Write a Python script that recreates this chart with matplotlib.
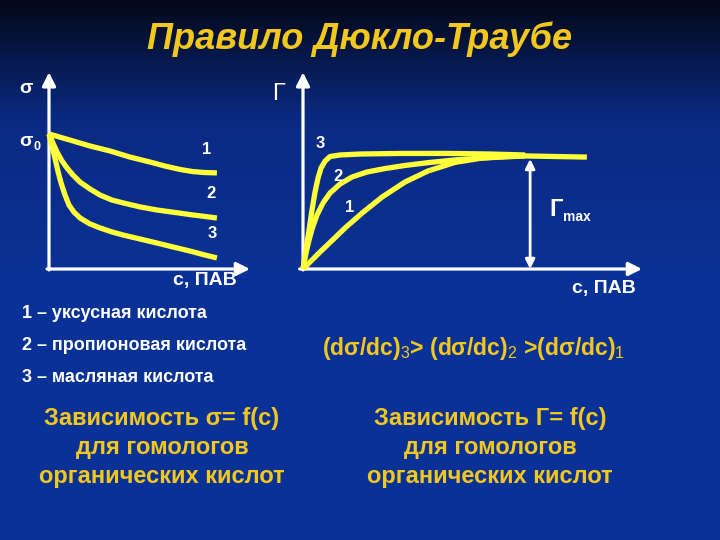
import numpy as np
import matplotlib
matplotlib.use("Agg")
import matplotlib.pyplot as plt

plt.rcParams['font.family'] = ['Liberation Sans', 'DejaVu Sans']
plt.rcParams['mathtext.fontset'] = 'custom'
plt.rcParams['mathtext.rm'] = 'Liberation Sans'
plt.rcParams['mathtext.it'] = 'Liberation Sans'
plt.rcParams['mathtext.default'] = 'rm'

# ---- data (relative units) ----
# left: surface tension sigma vs concentration
sig_c1 = [0, 10.6, 20.7, 30.8, 40.9, 51, 58.6, 66.2, 72.7, 78.8, 84.8]
sig_v1 = [70.7, 67.5, 64.4, 61.8, 58.6, 56, 53.9, 52.1, 51, 50.5, 50.3]
sig_c2 = [0, 2, 4, 6.6, 9.1, 12.1, 15.7, 20.7, 25.8, 31.8, 37.4, 46, 54.5, 63.6, 71.2, 78.8, 84.8]
sig_v2 = [70.7, 66, 61.3, 56.5, 52.9, 49.2, 45.5, 41.9, 38.7, 36.1, 34.6, 32.5, 30.9, 29.6, 28.5, 27.5, 26.7]
sig_c3 = [0, 1.5, 3, 4.5, 6.1, 8.1, 10.1, 12.6, 15.7, 20.7, 25.8, 31.8, 37.4, 46, 54.5, 63.6, 71.2, 78.8, 84.8]
sig_v3 = [70.7, 64.4, 58.1, 51.3, 45, 38.7, 33.5, 29.8, 26.7, 23.6, 21.5, 19.4, 17.8, 15.7, 13.6, 11.3, 9.4, 7.3, 5.8]
sig_labels = ['1', '2', '3']

# right: adsorption Gamma vs concentration
gam_c1 = [0, 2.7, 5.1, 8.1, 12.6, 17.7, 23.7, 30.5, 37.4, 45.5, 53.6, 60.5, 66.5, 75.4, 85]
gam_v1 = [0, 4.7, 8.9, 13.9, 21.5, 29.3, 37.7, 45.5, 51.3, 55.8, 58.1, 58.9, 59.2, 58.9, 58.6]
gam_c2 = [0, 0.6, 1.5, 2.7, 4.2, 6, 8.1, 11.1, 14.7, 19.2, 24.6, 30.5, 38, 45.5, 53.6, 66.5]
gam_v2 = [0, 5.8, 13.1, 20.9, 28.3, 34.6, 39.8, 44.5, 48.2, 50.8, 52.6, 54.2, 55.8, 57.1, 58.1, 59.2]
gam_c3 = [0, 0.9, 1.8, 2.7, 3.6, 4.5, 5.4, 6.6, 8.1, 11.1, 17.1, 29, 44, 56, 66.5]
gam_v3 = [0, 9.9, 20.4, 30.9, 40.3, 47.6, 52.9, 56.5, 58.9, 59.7, 60.2, 60.5, 60.5, 60.2, 59.7]
gam_labels = ['1', '2', '3']
gam_max_c = 68
gam_max = 58.6

title = "Правило Дюкло-Траубе"
acids = ["1 – уксусная кислота", "2 – пропионовая кислота", "3 – масляная кислота"]
left_caption = ["Зависимость σ= f(c)", "для гомологов", "органических кислот"]
right_caption = ["Зависимость Г= f(c)", "для гомологов", "органических кислот"]
xlabel = "с, ПАВ"

W, H = 720, 540
fig = plt.figure(figsize=(7.2, 5.4), dpi=100)

# background gradient
bg = fig.add_axes([0, 0, 1, 1], zorder=-10)
ys = np.linspace(0, 1, 540)[:, None]
top = np.array([4, 8, 24]) / 255
mid = np.array([10, 42, 130]) / 255
bot = np.array([10, 50, 150]) / 255
t1 = np.clip(ys / 0.22, 0, 1)
t2 = np.clip((ys - 0.22) / 0.3, 0, 1)
col = top * (1 - t1[..., None]) + mid * t1[..., None]
col = col * (1 - t2[..., None]) + bot * t2[..., None]
img = np.repeat(col, 2, axis=1)
bg.imshow(img, aspect='auto', extent=[0, 1, 0, 1])
bg.set_axis_off()

def fx(px):
    return px / W

def fy(py):
    return 1 - py / H

YEL = '#ffff3a'
GOLD = '#f2c81e'
lw_curve = 3.8
lw_axis = 2.3

def make_axes(x0, x1, y0, y1):
    ax = fig.add_axes([fx(x0), fy(y1), (x1 - x0) / W, (y1 - y0) / H])
    ax.set_xlim(0, 100)
    ax.set_ylim(0, 100)
    ax.set_axis_off()
    ax.patch.set_alpha(0)
    ap = dict(arrowstyle='-|>', color='white', lw=lw_axis, mutation_scale=20,
              shrinkA=0, shrinkB=0)
    ax.annotate('', xy=(0, 1.03), xytext=(0, -0.005), xycoords='axes fraction',
                arrowprops=ap, annotation_clip=False)
    ax.annotate('', xy=(1.015, 0), xytext=(-0.01, 0), xycoords='axes fraction',
                arrowprops=ap, annotation_clip=False)
    return ax

axL = make_axes(49, 247, 78, 269)
for c, v in [(sig_c1, sig_v1), (sig_c2, sig_v2), (sig_c3, sig_v3)]:
    axL.plot(c, v, color=YEL, lw=lw_curve, solid_capstyle='butt',
             solid_joinstyle='round', clip_on=False, zorder=3)

axR = make_axes(303, 637, 78, 269)
for c, v in [(gam_c1, gam_v1), (gam_c2, gam_v2), (gam_c3, gam_v3)]:
    axR.plot(c, v, color=YEL, lw=lw_curve, solid_capstyle='butt',
             solid_joinstyle='round', clip_on=False, zorder=3)
axR.annotate('', xy=(gam_max_c, gam_max - 1), xytext=(gam_max_c, 0),
             arrowprops=dict(arrowstyle='<|-|>', color='white', lw=2.0,
                             mutation_scale=14, shrinkA=0, shrinkB=0),
             annotation_clip=False, zorder=4)

def T(px, py, s, size, color='white', ha='left', va='center', weight='bold', **kw):
    fig.text(fx(px), fy(py), s, fontsize=size, color=color, ha=ha, va=va,
             fontweight=weight, **kw)

# title
T(360, 39, title, 26, color=GOLD, ha='center', style='italic')

# left chart labels
T(19, 89, "σ", 14)
T(19, 142, "σ", 14)
T(33, 147, "0", 9)
for lab, (px, py) in zip(sig_labels, [(207, 150), (211, 193), (212, 234)]):
    T(px, py, lab, 12, ha='center')
T(205, 280, xlabel, 14, ha='center')

# right chart labels
T(278, 94, "Г", 17, ha='center', weight='normal')
for lab, (px, py) in zip(gam_labels, [(350, 207), (338, 177), (320, 143)]):
    T(px, py, lab, 12, ha='center')
T(549, 210, "Г", 17, ha='left')
T(563, 217, "max", 10, ha='left')
T(604, 288, xlabel, 14, ha='center')

# acid list
for i, s in enumerate(acids):
    T(22, 314 + 32 * i, s, 13)

# derivative relation
T(322, 348, "(dσ/dc)$_3$> (dσ/dc)$_2$ >(dσ/dc)$_1$", 16.5, color=GOLD)

# captions
for i, s in enumerate(left_caption):
    T(162, 418 + 29.5 * i, s, 17, color=GOLD, ha='center')
for i, s in enumerate(right_caption):
    T(490, 418 + 29.5 * i, s, 17, color=GOLD, ha='center')

fig.savefig("out.png", dpi=100)
